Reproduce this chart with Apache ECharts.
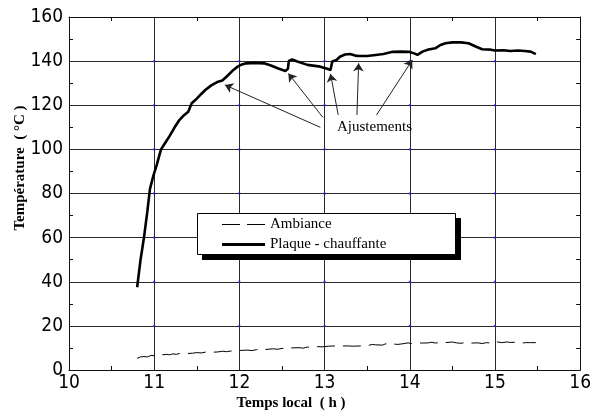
<!DOCTYPE html>
<html>
<head>
<meta charset="utf-8">
<script src="https://cdn.jsdelivr.net/npm/echarts@6/dist/echarts.min.js"></script>
<style>
html,body{margin:0;padding:0;background:#fff;}
#chart{width:594px;height:414px;}
</style>
</head>
<body>
<div id="chart"></div>
<script>
// ---- Data ----
const xTicks = [10, 11, 12, 13, 14, 15, 16];
const yTicks = [0, 20, 40, 60, 80, 100, 120, 140, 160];
const seriesNames = ['Ambiance', 'Plaque - chauffante'];

const ambiance = [
  [10.80,5.3],[10.84,5.9],[10.88,6.1],[10.92,5.9],[10.96,6.6],[11.00,6.5],[11.04,7.0],[11.08,6.8],
  [11.14,7.1],[11.18,6.9],[11.22,7.3],[11.26,7.1],[11.30,7.5],[11.36,7.4],
  [11.45,7.6],[11.50,7.9],[11.55,7.7],[11.60,8.1],[11.66,8.0],
  [11.75,8.2],[11.80,8.5],[11.85,8.3],[11.90,8.6],[11.96,8.7],[12.02,8.9],
  [12.10,9.0],[12.15,8.8],[12.20,9.2],[12.25,9.4],[12.30,9.3],
  [12.40,9.6],[12.45,9.4],[12.50,9.8],[12.55,9.6],[12.60,10.0],
  [12.70,10.1],[12.75,9.9],[12.80,10.4],[12.86,10.2],[12.92,10.6],[12.98,10.5],
  [13.05,10.8],[13.12,10.9],[13.20,10.9],[13.28,10.9],[13.34,10.8],
  [13.42,10.9],[13.46,11.1],[13.50,11.0],[13.56,11.6],[13.60,11.4],
  [13.68,11.3],[13.72,11.9],[13.76,11.5],[13.80,11.8],[13.86,11.6],
  [13.92,11.9],[13.98,12.3],[14.02,12.0],[14.08,12.4],[14.14,12.2],
  [14.22,12.3],[14.26,12.6],[14.30,12.2],[14.36,12.5],[14.42,12.4],
  [14.50,12.7],[14.55,12.3],[14.60,12.1],[14.66,12.5],[14.72,12.2],
  [14.80,12.3],[14.85,12.0],[14.90,12.4],[14.96,12.2],[15.00,12.9],
  [15.08,12.4],[15.14,12.7],[15.18,12.5],[15.24,12.6],[15.30,12.2],
  [15.36,12.4],[15.42,12.4],[15.48,12.4]
];

const plaque = [
  [10.80,37.5],[10.84,50],[10.88,60],[10.92,72],[10.95,82],[10.99,88],[11.03,93],[11.08,100],
  [11.13,103],[11.18,106],[11.24,110],[11.29,113],[11.35,115.5],[11.40,117.1],[11.44,120.9],
  [11.50,123],[11.55,125],[11.60,126.9],[11.67,129],[11.75,130.7],[11.80,131.2],[11.87,133.7],
  [11.93,136],[11.98,137.5],[12.03,138.5],[12.08,139],[12.18,139.2],[12.29,139],[12.37,138],
  [12.45,136.8],[12.54,135.5],[12.57,136.5],[12.58,140.1],[12.62,140.7],[12.68,139.8],
  [12.80,138.3],[12.95,137.5],[13.04,136.4],[13.07,136.0],[13.09,139.8],[13.14,140.5],
  [13.18,142.0],[13.24,143],[13.30,143.2],[13.36,142.5],[13.41,142.3],[13.50,142.3],
  [13.60,142.8],[13.69,143.2],[13.80,144.2],[13.90,144.3],[13.99,144.2],[14.06,143.4],
  [14.09,142.8],[14.15,144.3],[14.22,145.3],[14.30,145.8],[14.36,147.3],[14.42,148.1],
  [14.50,148.5],[14.60,148.5],[14.69,148.1],[14.78,146.5],[14.85,145.4],[14.95,145.2],
  [15.00,144.8],[15.10,144.9],[15.18,144.6],[15.27,144.8],[15.35,144.6],[15.42,144.3],
  [15.48,143.2]
];

// annotation arrows: [tail (at label), head (on curve)] in data units
const arrowTails = [[12.95,110],[12.98,114.5],[13.16,115.6],[13.38,115.6],[13.61,115.6]];
const arrowHeads = [[11.83,129.2],[12.575,134.4],[13.07,134.2],[13.40,139.0],[14.03,140.5]];
const annotationText = 'Ajustements';
const xName = 'Temps local  ( h )';
const yName = 'Température  ( °C )';

// ---- Chart ----
const narrow = "'Liberation Sans Narrow', 'DejaVu Sans Condensed', 'Arial Narrow', 'Liberation Sans', sans-serif";
const serif = "'Liberation Serif', 'DejaVu Serif', serif";
const gridColor = '#2a2a2a';

// grid intersection dots from tick arrays (interior only)
const dots = [];
xTicks.slice(1, -1).forEach(x => yTicks.slice(1, -1).forEach(y => dots.push([x, y])));

const chart = echarts.init(document.getElementById('chart'), null, {renderer: 'canvas'});

const axisCommon = {
  type: 'value',
  axisLine: {show: true, onZero: false, lineStyle: {color: '#111', width: 1}},
  axisTick: {show: false, inside: true},
  minorTick: {show: true, splitNumber: 2, length: 4, lineStyle: {color: '#111', width: 1}},
  minorSplitLine: {show: false}
};

const legendIcons = ['path://M0,0h18v1.2h-18zM25,0h18v1.2h-18z', 'path://M0,0h43v3h-43z'];

chart.setOption({
  animation: false,
  backgroundColor: '#fff',
  grid: {left: 69, right: 8, top: 17, bottom: 44, containLabel: false},
  xAxis: [
    Object.assign({}, axisCommon, {
      position: 'bottom', min: xTicks[0], max: xTicks[xTicks.length - 1], interval: 1,
      splitLine: {show: true, lineStyle: {color: gridColor, width: 1}},
      axisLabel: {show: true, color: '#000', fontFamily: narrow, fontSize: 19, margin: 4}
    }),
    Object.assign({}, axisCommon, {
      position: 'top', min: xTicks[0], max: xTicks[xTicks.length - 1], interval: 1,
      splitLine: {show: false}, axisLabel: {show: false}
    })
  ],
  yAxis: [
    Object.assign({}, axisCommon, {
      position: 'left', min: yTicks[0], max: yTicks[yTicks.length - 1], interval: 20,
      splitLine: {show: true, lineStyle: {color: gridColor, width: 1}},
      axisLabel: {show: true, color: '#000', fontFamily: narrow, fontSize: 19, margin: 6}
    }),
    Object.assign({}, axisCommon, {
      position: 'right', min: yTicks[0], max: yTicks[yTicks.length - 1], interval: 20,
      splitLine: {show: false}, axisLabel: {show: false}
    })
  ],
  legend: {
    show: true, orient: 'vertical', left: 222, top: 217, padding: 0,
    itemWidth: 43, itemHeight: 14, itemGap: 5, z: 30, symbolKeepAspect: true,
    itemStyle: {color: '#000', borderWidth: 0},
    textStyle: {fontFamily: serif, fontSize: 15, color: '#000'},
    data: seriesNames.map((n, i) => ({name: n, icon: legendIcons[i]}))
  },
  graphic: [
    {type: 'rect', z: 20, shape: {x: 202, y: 218, width: 259, height: 42}, style: {fill: '#000'}},
    {type: 'rect', z: 21, shape: {x: 197.5, y: 213.5, width: 258, height: 41}, style: {fill: '#fff', stroke: '#000', lineWidth: 1}},
    {type: 'text', z: 22, x: 337, y: 127, style: {text: annotationText, fontFamily: serif, fontSize: 15, fill: '#000', align: 'left', verticalAlign: 'middle'}},
    {type: 'text', z: 22, x: 291, y: 403, style: {text: xName, font: "bold 15px 'Liberation Serif', serif", fill: '#000', align: 'center', verticalAlign: 'middle'}},
    {type: 'text', z: 22, x: 20, y: 168, rotation: Math.PI / 2, style: {text: yName, font: "bold 15px 'Liberation Serif', serif", fill: '#000', align: 'center', verticalAlign: 'middle'}}
  ],
  series: [
    {
      name: 'dots', type: 'scatter', data: dots, symbol: 'rect', symbolSize: 2,
      itemStyle: {color: '#1a1aff'}, silent: true, z: 1
    },
    {
      name: seriesNames[0], type: 'line', data: ambiance, showSymbol: false, symbol: 'none',
      lineStyle: {color: '#000', width: 1, type: [18, 8]}, itemStyle: {color: '#000'}, z: 5
    },
    {
      name: seriesNames[1], type: 'line', data: plaque, showSymbol: false, symbol: 'none',
      lineStyle: {color: '#000', width: 2.6}, itemStyle: {color: '#000'}, z: 6,
      markLine: {
        silent: true, animation: false,
        symbol: ['none', 'arrow'], symbolSize: 8,
        lineStyle: {color: '#222', width: 1, type: 'solid'},
        label: {show: false}, emphasis: {disabled: true},
        data: arrowTails.map((t, i) => [{coord: t}, {coord: arrowHeads[i]}])
      }
    }
  ]
});
</script>
</body>
</html>
